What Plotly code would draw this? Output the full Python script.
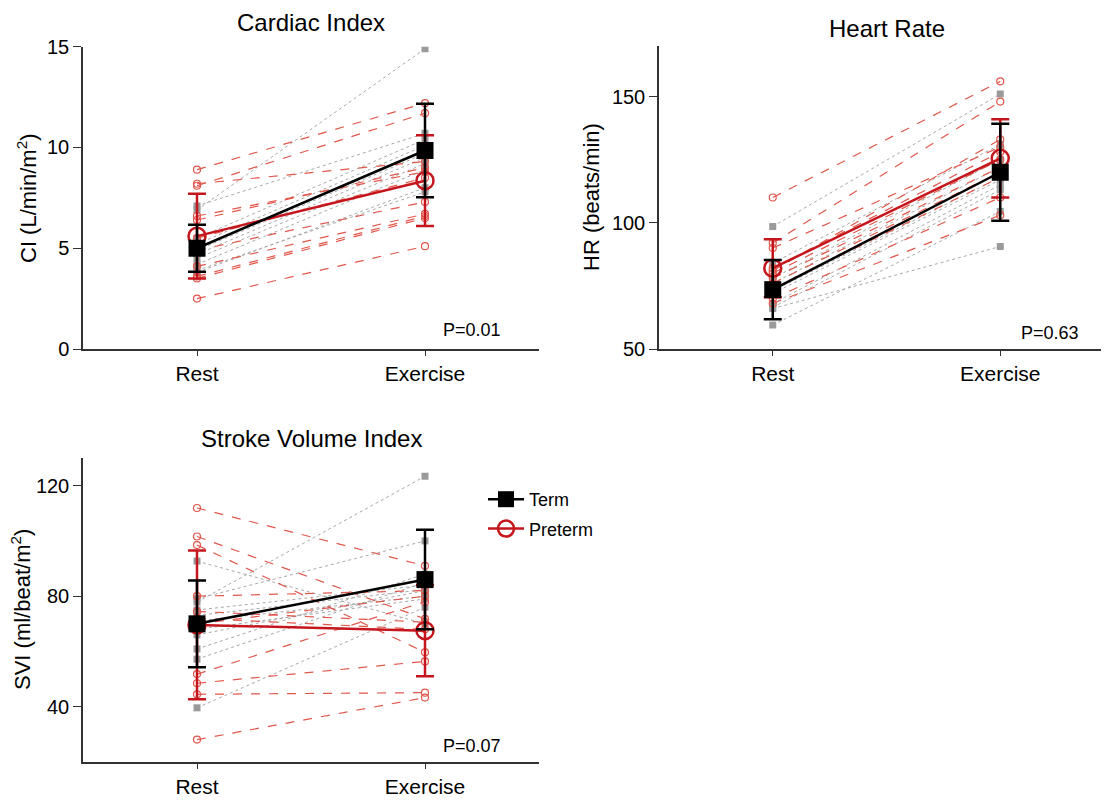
import plotly.graph_objects as go

# ---------------- data ----------------
conditions = ["Rest", "Exercise"]

# Cardiac index (L/min/m2) individual subjects
ci_term_rest = [7.1, 6.9, 5.5, 5.2, 5.0, 4.9, 4.7, 4.5, 4.2, 3.9, 3.8]
ci_term_ex = [10.7, 14.9, 10.4, 10.1, 9.9, 9.7, 9.5, 9.2, 8.9, 7.8, 8.0]
ci_pre_rest = [8.9, 8.2, 8.1, 6.6, 6.4, 5.5, 4.9, 4.1, 3.6, 3.5, 2.5]
ci_pre_ex = [12.2, 9.3, 11.7, 8.8, 9.0, 8.5, 7.3, 6.7, 6.6, 6.5, 5.1]
ci_term_mean = [5.0, 9.85]
ci_term_sd = [1.17, 2.32]
ci_pre_mean = [5.6, 8.35]
ci_pre_sd = [2.1, 2.25]

# Heart rate (beats/min)
hr_term_rest = [98.5, 84, 78, 76, 74, 73, 72, 68, 66.5, 66, 59.5]
hr_term_ex = [151, 131, 125, 122, 120, 118, 117, 115, 113, 90.6, 104.5]
hr_pre_rest = [110, 92, 81, 90, 82, 80, 78, 76, 74, 70, 68]
hr_pre_ex = [156, 148, 133, 130, 128, 125, 122, 120, 118, 110, 103]
hr_term_mean = [73.5, 120.0]
hr_term_sd = [11.7, 19.2]
hr_pre_mean = [82.0, 125.5]
hr_pre_sd = [11.5, 15.5]

# Stroke volume index (ml/beat/m2)
svi_term_rest = [92.7, 79.1, 77.9, 75, 73, 71, 68, 66, 60.9, 57.2, 39.6]
svi_term_ex = [70, 100, 123.4, 84, 82.4, 80, 79, 82, 88, 85, 76]
svi_pre_rest = [111.9, 101.6, 98.5, 80, 74.5, 72, 70, 51.8, 48.5, 44.5, 28.1]
svi_pre_ex = [91.0, 71.8, 59.7, 82, 70.6, 68, 80, 78, 56.4, 45.1, 43.3]
svi_term_mean = [70.0, 86.0]
svi_term_sd = [15.7, 18.0]
svi_pre_mean = [69.6, 67.5]
svi_pre_sd = [26.9, 16.5]

p_values = ["P=0.01", "P=0.63", "P=0.07"]
titles = ["Cardiac Index", "Heart Rate", "Stroke Volume Index"]
ytitles = ["CI (L/min/m<sup>2</sup>)", "HR (beats/min)", "SVI (ml/beat/m<sup>2</sup>)"]

# ---------------- styles ----------------
FONT = "Liberation Sans, Arial, Helvetica, sans-serif"
RED = "#c4161c"
LIGHT_RED = "#e0574c"
GRAY = "#9a9a9a"

fig = go.Figure()


def subject_xy(rest, ex):
    xs, ys = [], []
    for r, e in zip(rest, ex):
        xs += [0, 1, None]
        ys += [r, e, None]
    return xs, ys


panels = [
    ("x", "y", ci_term_rest, ci_term_ex, ci_pre_rest, ci_pre_ex,
     ci_term_mean, ci_term_sd, ci_pre_mean, ci_pre_sd, True),
    ("x2", "y2", hr_term_rest, hr_term_ex, hr_pre_rest, hr_pre_ex,
     hr_term_mean, hr_term_sd, hr_pre_mean, hr_pre_sd, False),
    ("x3", "y3", svi_term_rest, svi_term_ex, svi_pre_rest, svi_pre_ex,
     svi_term_mean, svi_term_sd, svi_pre_mean, svi_pre_sd, False),
]

for xa, ya, tr, te, pr, pe, tm, tsd, pm, psd, show in panels:
    xs, ys = subject_xy(tr, te)
    fig.add_trace(go.Scatter(
        x=xs, y=ys, xaxis=xa, yaxis=ya, mode="lines+markers", showlegend=False,
        line=dict(color="#a8a8a8", width=1, dash="dot"),
        marker=dict(symbol="square", size=7, color=GRAY, line=dict(width=0)),
        hoverinfo="skip"))
    xs, ys = subject_xy(pr, pe)
    fig.add_trace(go.Scatter(
        x=xs, y=ys, xaxis=xa, yaxis=ya, mode="lines+markers", showlegend=False,
        line=dict(color=LIGHT_RED, width=1.2, dash="dash"),
        marker=dict(symbol="circle-open", size=7, color=LIGHT_RED, line=dict(width=1.2)),
        hoverinfo="skip"))
    fig.add_trace(go.Scatter(
        x=[0, 1], y=pm, xaxis=xa, yaxis=ya, mode="lines+markers",
        name="Preterm", showlegend=show, legendrank=2, legendgroup="pre",
        line=dict(color=RED, width=2.5),
        marker=dict(symbol="circle-open", size=17, color=RED, line=dict(width=2.5, color=RED)),
        error_y=dict(type="data", array=psd, color=RED, thickness=2.5, width=9)))
    fig.add_trace(go.Scatter(
        x=[0, 1], y=tm, xaxis=xa, yaxis=ya, mode="lines+markers",
        name="Term", showlegend=show, legendrank=1, legendgroup="term",
        line=dict(color="black", width=2.5),
        marker=dict(symbol="square", size=17, color="black"),
        error_y=dict(type="data", array=tsd, color="black", thickness=2.5, width=9)))

# page offset (browser body margin) compensation
OFF = 8
W, H = 1109 - OFF, 801 - OFF


def px_x(p):
    return (p - OFF) / W


def px_y(p):
    return 1 - (p - OFF) / H


axis_common = dict(
    showgrid=False, zeroline=False, showline=True, linecolor="#333333", linewidth=1.5,
    ticks="outside", tickcolor="#333333", tickwidth=1.2, automargin=False,
)

xcommon = dict(axis_common, tickvals=[0, 1], ticktext=conditions, ticklen=5,
               tickfont=dict(family=FONT, size=21, color="black"))
ycommon = dict(axis_common, ticklen=8,
               tickfont=dict(family=FONT, size=20, color="black"))

fig.update_layout(
    width=W, height=H,
    margin=dict(l=0, r=0, t=0, b=0),
    paper_bgcolor="white", plot_bgcolor="white",
    font=dict(family=FONT, size=18, color="black"),
    xaxis=dict(xcommon, domain=[px_x(83), px_x(539)], range=[-0.5, 1.5], anchor="y"),
    yaxis=dict(ycommon, domain=[px_y(349), px_y(46.7)], range=[0, 15],
               tickvals=[0, 5, 10, 15], anchor="x"),
    xaxis2=dict(xcommon, domain=[px_x(659), 1.0], range=[-0.5, 1.478], anchor="y2"),
    yaxis2=dict(ycommon, domain=[px_y(349), px_y(46)], range=[50, 170],
                tickvals=[50, 100, 150], anchor="x2"),
    xaxis3=dict(xcommon, domain=[px_x(83), px_x(539)], range=[-0.5, 1.5], anchor="y3"),
    yaxis3=dict(ycommon, domain=[px_y(762), px_y(458)], range=[20, 130],
                tickvals=[40, 80, 120], anchor="x3"),
    legend=dict(x=px_x(483), y=px_y(481), xanchor="left", yanchor="top",
                bgcolor="rgba(0,0,0,0)", font=dict(family=FONT, size=18, color="black"),
                itemwidth=36, tracegroupgap=3),
    showlegend=True,
)

annotations = [
    dict(text=titles[0], x=px_x(311), y=px_y(22), xref="paper", yref="paper",
         xanchor="center", yanchor="middle", showarrow=False, font=dict(family=FONT, size=24)),
    dict(text=titles[1], x=px_x(887), y=px_y(28), xref="paper", yref="paper",
         xanchor="center", yanchor="middle", showarrow=False, font=dict(family=FONT, size=24)),
    dict(text=titles[2], x=px_x(311), y=px_y(438), xref="paper", yref="paper",
         xanchor="center", yanchor="middle", showarrow=False, font=dict(family=FONT, size=24)),
    dict(text=ytitles[0], x=px_x(27), y=px_y(198), xref="paper", yref="paper",
         xanchor="center", yanchor="middle", textangle=-90, showarrow=False,
         font=dict(family=FONT, size=22)),
    dict(text=ytitles[1], x=px_x(591), y=px_y(197), xref="paper", yref="paper",
         xanchor="center", yanchor="middle", textangle=-90, showarrow=False,
         font=dict(family=FONT, size=22)),
    dict(text=ytitles[2], x=px_x(21), y=px_y(610), xref="paper", yref="paper",
         xanchor="center", yanchor="middle", textangle=-90, showarrow=False,
         font=dict(family=FONT, size=22)),
    dict(text=p_values[0], x=0.921, y=0.063, xref="x domain", yref="y domain",
         xanchor="right", yanchor="middle", showarrow=False, font=dict(family=FONT, size=18)),
    dict(text=p_values[1], x=0.938, y=0.053, xref="x2 domain", yref="y2 domain",
         xanchor="right", yanchor="middle", showarrow=False, font=dict(family=FONT, size=18)),
    dict(text=p_values[2], x=0.921, y=0.053, xref="x3 domain", yref="y3 domain",
         xanchor="right", yanchor="middle", showarrow=False, font=dict(family=FONT, size=18)),
]
fig.update_layout(annotations=annotations)

fig.write_html("out.html")
